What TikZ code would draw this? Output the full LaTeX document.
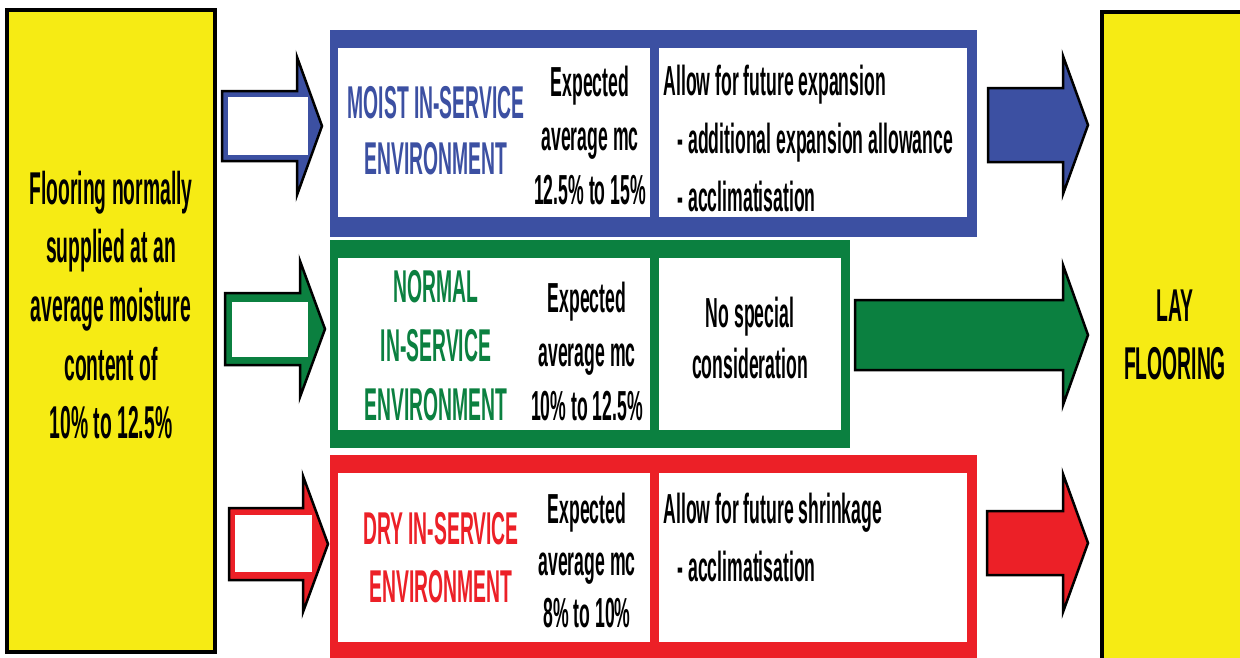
\documentclass[tikz,border=0pt]{standalone}
\usepackage{fontspec}
\setmainfont{Liberation Sans}[FakeStretch=0.42]
\definecolor{cblue}{RGB}{60,80,162}
\definecolor{cgreen}{RGB}{11,128,64}
\definecolor{cred}{RGB}{236,32,39}
\definecolor{cyellow}{RGB}{246,235,20}
\newcommand\fatarrow[8]{%
  \filldraw[fill=#1,draw=black,line width=2.5pt,line join=miter]
    ({#2},{#5-#6}) -- ({#3},{#5-#6}) -- ({#3},{#5-#7}) -- ({#4},{#5}) --
    ({#3},{#5+#7}) -- ({#3},{#5+#6}) -- ({#2},{#5+#6}) -- cycle;
  #8}
\tikzset{
  ybox/.style={fill=cyellow,draw=black,line width=4pt,inner sep=0pt,outer sep=0pt,anchor=north west},
  ytext/.style={font=\fontsize{46}{58.7}\selectfont\bfseries,align=center},
  hd/.style={font=\fontsize{46}{56}\selectfont\bfseries,align=center},
  bk/.style={font=\fontsize{42}{54}\selectfont\bfseries,align=center},
  rt/.style={font=\fontsize{42}{58}\selectfont\bfseries,align=left,anchor=west},
}
\begin{document}
\begin{tikzpicture}[x=1pt,y=-1pt]
\useasboundingbox (0,0) rectangle (1240,657);
\clip (0,0) rectangle (1240,657);
\fill[white] (0,0) rectangle (1240,657);

% source and target boxes
\node[ybox,minimum width=208pt,minimum height=642pt] (src) at (7,10) {};
\node[ytext] (srctext) at (111,305) {Flooring normally\\supplied at an\\average moisture\\content of\\10\% to 12.5\%};
\node[ybox,minimum width=160pt,minimum height=660pt] (lay) at (1102,12) {};
\node[ytext] (laytext) at (1175,335) {LAY\\FLOORING};

% moist group
\fill[cblue] (330,30) rectangle (977,237);
\fill[white] (338,48) rectangle (650,217);
\fill[white] (659,48) rectangle (967,217);
\node[hd,text=cblue] (moist) at (436,131) {MOIST IN-SERVICE\\ENVIRONMENT};
\node[bk] (moistmc) at (590,135) {Expected\\average mc\\12.5\% to 15\%};
\node[rt] (moistact) at (660,138) {Allow for future expansion\\\hspace*{14pt}- additional expansion allowance\\\hspace*{14pt}- acclimatisation};

% normal group
\fill[cgreen] (330,240) rectangle (850,448);
\fill[white] (338,258) rectangle (650,430);
\fill[white] (659,258) rectangle (841,430);
\node[hd,text=cgreen,font=\fontsize{46}{59}\selectfont\bfseries] (normal) at (436,346) {NORMAL\\IN-SERVICE\\ENVIRONMENT};
\node[bk] (normalmc) at (587,351) {Expected\\average mc\\10\% to 12.5\%};
\node[bk,font=\fontsize{42}{51}\selectfont\bfseries] (normalact) at (750,338) {No special\\consideration};

% dry group
\fill[cred] (330,455) rectangle (977,660);
\fill[white] (338,473) rectangle (650,642);
\fill[white] (659,473) rectangle (967,642);
\node[hd,text=cred,font=\fontsize{46}{58}\selectfont\bfseries] (dry) at (441,558) {DRY IN-SERVICE\\ENVIRONMENT};
\node[bk,font=\fontsize{42}{52}\selectfont\bfseries] (drymc) at (587,560) {Expected\\average mc\\8\% to 10\%};
\node[rt] (dryact) at (660,537) {Allow for future shrinkage\\\hspace*{14pt}- acclimatisation};

% input arrows (hollow shafts)
\fatarrow{cblue}{222}{297}{322}{126}{35}{69}{\fill[white] (228,97) rectangle (308,155);}
\fatarrow{cgreen}{225}{300}{325}{329}{36}{68}{\fill[white] (232,302) rectangle (308,357);}
\fatarrow{cred}{229}{303}{328}{544}{36}{68}{\fill[white] (235,515) rectangle (312,572);}

% output arrows
\fatarrow{cblue}{988}{1063}{1088}{125}{37}{69}{}
\fatarrow{cgreen}{855}{1063}{1088}{335}{35}{70}{}
\fatarrow{cred}{987}{1063}{1088}{543}{32}{69}{}
\end{tikzpicture}
\end{document}
